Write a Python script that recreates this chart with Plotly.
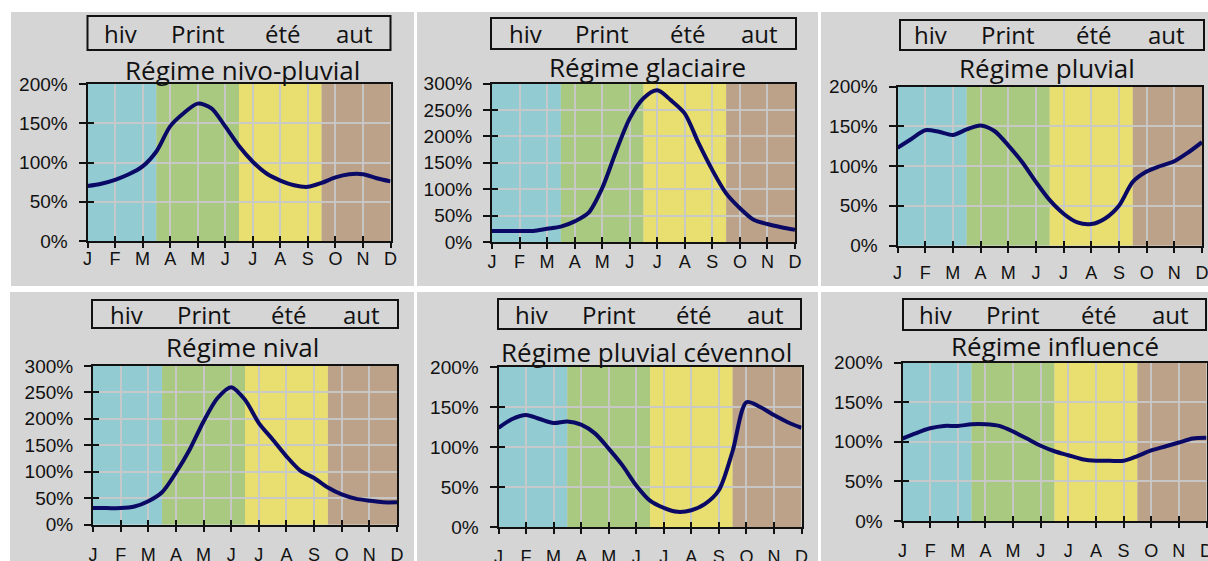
import plotly.graph_objects as go

W, H = 1208, 561

# ---------------- data ----------------
months = ["J", "F", "M", "A", "M", "J", "J", "A", "S", "O", "N", "D"]
month_pos = list(range(12))
half_month_pos = [i * 0.5 for i in range(23)]

seasons = ["hiv", "Print", "été", "aut"]
season_label_pos = [1.2, 4.0, 7.1, 9.7]
season_bounds = [0, 2.5, 5.5, 8.5, 11]

titles = ["Régime nivo-pluvial", "Régime glaciaire", "Régime pluvial",
          "Régime nival", "Régime pluvial cévennol", "Régime influencé"]

nivo_pluvial = [70, 73, 78, 85, 95, 114, 146, 163, 175, 169, 146, 121,
                101, 86, 77, 71, 69, 74, 81, 85, 85, 80, 76]
glaciaire = [21, 21, 21, 21, 25, 29, 39, 55, 102, 171, 234, 272,
             287, 268, 243, 187, 136, 92, 64, 42, 34, 28, 23]
pluvial = [123, 134, 145, 143, 139, 146, 151, 144, 126, 105, 80, 57,
           40, 29, 27, 34, 50, 80, 93, 100, 106, 117, 130]
nival = [31, 31, 31, 34, 44, 61, 98, 142, 195, 239, 260, 236,
         192, 161, 129, 102, 88, 70, 57, 49, 45, 42, 42]
cevenol = [124, 135, 140, 135, 130, 132, 128, 117, 98, 77, 52, 33,
           24, 19, 21, 29, 46, 95, 156, 150, 140, 131, 124]
influence = [104, 111, 117, 120, 120, 122, 122, 120, 113, 104, 95, 88,
             83, 78, 76, 76, 76, 82, 89, 94, 99, 104, 105]

series = [nivo_pluvial, glaciaire, pluvial, nival, cevenol, influence]
y_max = [200, 300, 200, 300, 200, 200]

# ---------------- styling / geometry (pixels) ----------------
season_colors = ["#93cbd3", "#a9c981", "#e9df70", "#bba288"]
panel_bg = "#d5d5d5"
line_color = "#0a0a66"
grid_color = "rgba(200,200,200,0.95)"
season_font = dict(family="Open Sans", size=24, color="#111")
title_font = dict(family="Open Sans", size=26, color="#111")
tick_font_y = dict(family="Liberation Sans", size=19, color="#111")
tick_font_x = dict(family="Liberation Sans", size=18, color="#111")

panels = [
    dict(bg=(11, 12, 414, 286), plot=(87.5, 84, 390.5, 241), box=(87.5, 16, 390.5, 50), title=(242, 70), xgap=10),
    dict(bg=(417, 12, 818, 286), plot=(492, 83.5, 795, 242), box=(491, 18, 796, 49), title=(647, 67), xgap=12),
    dict(bg=(821, 12, 1208, 286), plot=(897.5, 86.5, 1202, 245.5), box=(900, 20, 1204, 50), title=(1047, 68), xgap=20),
    dict(bg=(10, 292, 414, 561), plot=(93, 366, 397, 524.5), box=(92, 300, 398, 328), title=(242, 347), xgap=23),
    dict(bg=(417, 292, 818, 561), plot=(498.5, 367, 801.5, 527), box=(498, 299, 801, 329), title=(646, 352), xgap=22),
    dict(bg=(821, 292, 1208, 561), plot=(902.5, 362.5, 1206.5, 521), box=(903, 299, 1206, 330), title=(1055, 346), xgap=22),
]


def fx(px):
    return px / W


def fy(py):
    return 1 - py / H


fig = go.Figure()
shapes = []
annotations = []
layout = {}

for i, (p, vals, ymax, title) in enumerate(zip(panels, series, y_max, titles), start=1):
    sfx = "" if i == 1 else str(i)
    ov = str(i + 6)
    L, T, R, B = p["plot"]
    xdom = [fx(L), fx(R)]
    ydom = [fy(B), fy(T)]
    yticks = list(range(0, ymax + 1, 50))

    # panel background
    bx0, by0, bx1, by1 = p["bg"]
    shapes.append(dict(type="rect", xref="paper", yref="paper", x0=fx(bx0), x1=fx(bx1),
                       y0=fy(by1), y1=fy(by0), fillcolor=panel_bg, line=dict(width=0), layer="below"))
    # season bands
    for k in range(4):
        shapes.append(dict(type="rect", xref="x" + sfx, yref="y" + sfx + " domain",
                           x0=season_bounds[k], x1=season_bounds[k + 1], y0=0, y1=1,
                           fillcolor=season_colors[k], line=dict(width=0), layer="below"))
    # header box
    hx0, hy0, hx1, hy1 = p["box"]
    shapes.append(dict(type="rect", xref="paper", yref="paper", x0=fx(hx0), x1=fx(hx1),
                       y0=fy(hy1), y1=fy(hy0), line=dict(color="#111", width=2),
                       fillcolor="rgba(0,0,0,0)", layer="above"))
    for lab, pos in zip(seasons, season_label_pos):
        annotations.append(dict(text=lab, xref="x" + sfx, x=pos, yref="paper", y=fy((hy0 + hy1) / 2),
                                xanchor="center", yanchor="middle", showarrow=False, font=season_font))
    # title
    tx, ty = p["title"]
    annotations.append(dict(text=title, xref="paper", yref="paper", x=fx(tx), y=fy(ty),
                            xanchor="center", yanchor="middle", showarrow=False, font=title_font))

    # main axes
    layout["xaxis" + sfx] = dict(domain=xdom, anchor="y" + sfx, range=[0, 11], automargin=False,
                                 tickmode="array", tickvals=month_pos, ticktext=months,
                                 ticks="outside", ticklen=5, tickwidth=2, tickcolor="#111",
                                 showline=True, linecolor="#111", linewidth=2, mirror=True,
                                 showgrid=True, gridcolor=grid_color, gridwidth=1.5,
                                 zeroline=False, tickfont=tick_font_x, ticklabeloverflow="allow",
                                 ticklabelstandoff=p["xgap"] - 15, fixedrange=True)
    layout["yaxis" + sfx] = dict(domain=ydom, anchor="x" + sfx, range=[0, ymax], automargin=False,
                                 tickmode="array", tickvals=yticks,
                                 ticktext=[f"{v}%" for v in yticks],
                                 ticks="outside", ticklen=7, tickwidth=2, tickcolor="#111",
                                 showline=True, linecolor="#111", linewidth=2, mirror=True,
                                 showgrid=True, gridcolor=grid_color, gridwidth=1.5,
                                 zeroline=False, tickfont=tick_font_y, ticklabeloverflow="allow",
                                 ticklabelstandoff=7, fixedrange=True)
    # overlay axes to get crossing ticks (inside part)
    layout["xaxis" + ov] = dict(domain=xdom, anchor="y" + ov, overlaying="x" + sfx, range=[0, 11],
                                automargin=False,
                                tickmode="array", tickvals=month_pos, ticks="inside", ticklen=5,
                                tickwidth=2, tickcolor="#111", showticklabels=False,
                                showgrid=False, showline=False, zeroline=False, fixedrange=True)
    layout["yaxis" + ov] = dict(domain=ydom, anchor="x" + ov, overlaying="y" + sfx, range=[0, ymax],
                                automargin=False,
                                tickmode="array", tickvals=yticks, ticks="inside", ticklen=6,
                                tickwidth=2, tickcolor="#111", showticklabels=False,
                                showgrid=False, showline=False, zeroline=False, fixedrange=True)

    fig.add_trace(go.Scatter(x=half_month_pos, y=vals, mode="lines",
                             line=dict(color=line_color, width=4, shape="spline", smoothing=0.8),
                             xaxis="x" + sfx, yaxis="y" + sfx, hoverinfo="skip", showlegend=False))
    fig.add_trace(go.Scatter(x=[None], y=[None], mode="lines", xaxis="x" + ov, yaxis="y" + ov,
                             hoverinfo="skip", showlegend=False))

fig.update_layout(width=W, height=H, autosize=False,
                  margin=dict(l=0, r=0, t=0, b=0, pad=0, autoexpand=False),
                  paper_bgcolor="white", plot_bgcolor="rgba(0,0,0,0)",
                  showlegend=False, shapes=shapes, annotations=annotations, **layout)

fig.write_html("out.html", config={"displayModeBar": False},
               post_script="document.documentElement.style.margin='0';"
                           "document.body.style.margin='0';"
                           "document.body.style.padding='0';"
                           "document.documentElement.style.overflow='hidden';"
                           "document.body.style.overflow='hidden';")
